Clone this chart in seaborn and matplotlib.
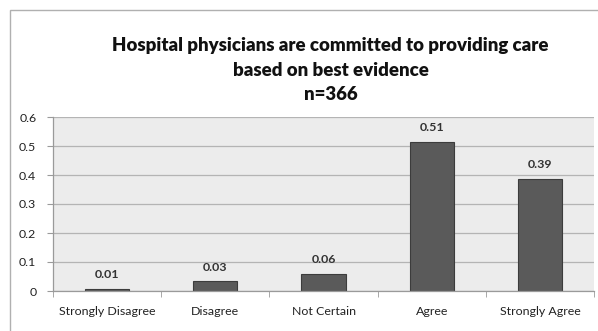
import matplotlib
matplotlib.use("Agg")
import matplotlib.pyplot as plt
import seaborn as sns
import pandas as pd
from matplotlib.patches import Rectangle

categories = ['Strongly Disagree', 'Disagree', 'Not Certain', 'Agree', 'Strongly Agree']
proportions = [0.008, 0.033, 0.058, 0.514, 0.387]
bar_labels = ['0.01', '0.03', '0.06', '0.51', '0.39']

df = pd.DataFrame({'response': categories, 'proportion': proportions})

sns.set_style('white')
plt.rcParams['font.family'] = ['Lato', 'DejaVu Sans']

fig = plt.figure(figsize=(5.98, 3.31), dpi=100)
ax = fig.add_axes([53 / 598, 1 - 291 / 331, (594 - 53) / 598, (291 - 117) / 331])

sns.barplot(x='response', y='proportion', data=df, order=categories,
            color='#5a5a5a', edgecolor='#3c3c3c', linewidth=0.8, width=0.41,
            saturation=1, ax=ax)

ax.set_facecolor('#ececec')
ax.set_ylim(0, 0.6)
ax.set_xlim(-0.5, 4.5)
ax.set_yticks([0, 0.1, 0.2, 0.3, 0.4, 0.5, 0.6])
ax.set_yticklabels(['0', '0.1', '0.2', '0.3', '0.4', '0.5', '0.6'])
ax.yaxis.grid(True, color='#b4b4b4', linewidth=0.9)
ax.set_axisbelow(True)
ax.set_xlabel('')
ax.set_ylabel('')

for side in ['top', 'right']:
    ax.spines[side].set_visible(False)
for side in ['left', 'bottom']:
    ax.spines[side].set_color('#9a9a9a')
    ax.spines[side].set_linewidth(0.9)

# tick marks between categories on x, small marks on y
ax.set_xticks(range(len(categories)))
ax.set_xticklabels(categories, fontsize=8.9, color='#222222')
ax.set_xticks([i + 0.5 for i in range(-1, len(categories))], minor=True)
ax.tick_params(axis='x', which='major', length=0, pad=11)
ax.tick_params(axis='x', which='minor', length=4, color='#9a9a9a', direction='out', bottom=True)
ax.tick_params(axis='y', length=4, color='#9a9a9a', direction='out', left=True,
               labelsize=8.9, labelcolor='#222222', pad=8)

for i, (v, lab) in enumerate(zip(proportions, bar_labels)):
    ax.text(i, v + 0.03, lab, ha='center', va='bottom', fontsize=8.9,
            fontweight='bold', color='#333333')

fig.text(0.553, 1 - 70 / 331,
         'Hospital physicians are committed to providing care\nbased on best evidence\nn=366',
         ha='center', va='center', fontsize=13.4, fontweight='heavy',
         color='#111111', linespacing=1.5)

# outer chart frame (only top and left visible in the crop)
fig.patches.append(Rectangle((10 / 598, -0.1), 1.2, 1 - 10 / 331 + 0.1,
                             transform=fig.transFigure, fill=False,
                             edgecolor='#b0b0b0', linewidth=1.0))

fig.savefig('out.png', dpi=100)
